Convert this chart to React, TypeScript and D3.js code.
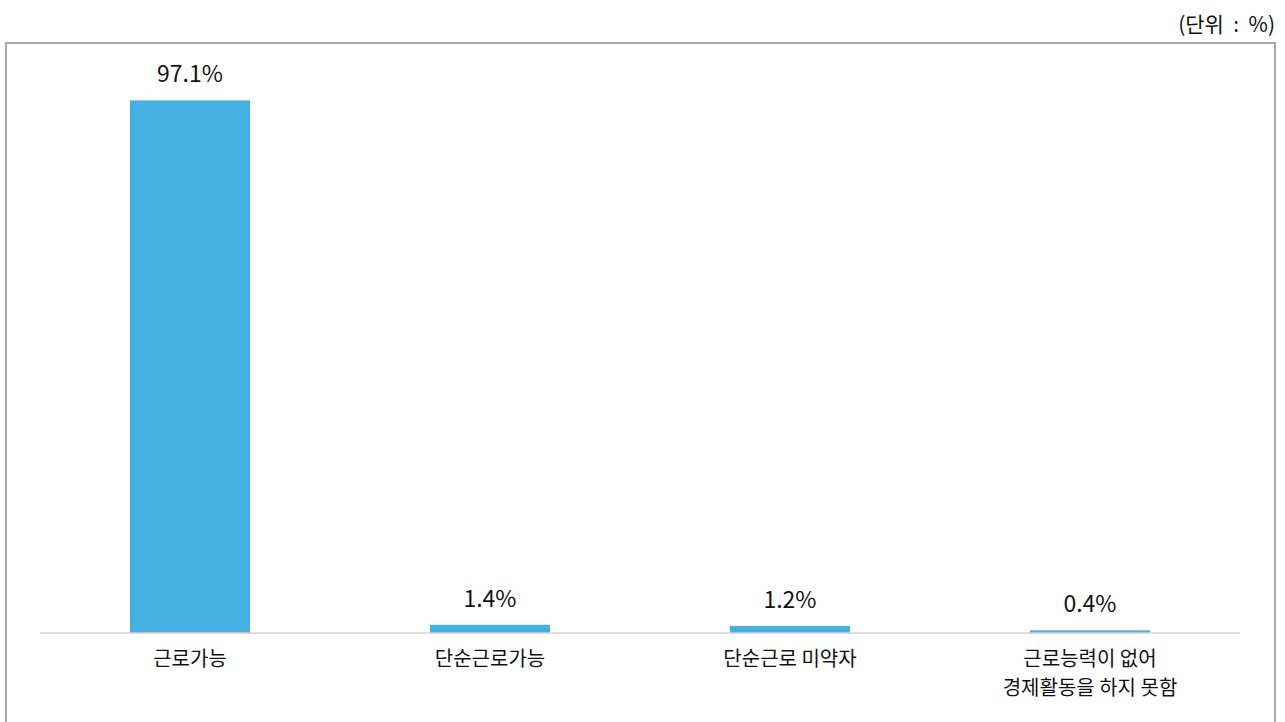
import { useRef, useEffect } from 'react';
import * as d3 from 'd3';

const categories = ['근로가능', '단순근로가능', '단순근로 미약자', '근로능력이 없어\n경제활동을 하지 못함'];
const values = [97.1, 1.4, 1.2, 0.4];
const unitLabel = '(단위  :  %)';

export default function App() {
  const svgRef = useRef<SVGSVGElement>(null);

  useEffect(() => {
    const w = 1285;
    const h = 722;
    const font = '"Noto Sans CJK KR", "Noto Sans", sans-serif';
    const svg = d3.select(svgRef.current).attr('width', w).attr('height', h);
    svg.selectAll('*').remove();

    // outer frame (bottom runs off the page)
    svg
      .append('rect')
      .attr('x', 6)
      .attr('y', 43)
      .attr('width', 1269)
      .attr('height', 700)
      .attr('fill', 'none')
      .attr('stroke', '#a9a9a9')
      .attr('stroke-width', 2);

    svg
      .append('text')
      .attr('x', 1275)
      .attr('y', 32)
      .attr('text-anchor', 'end')
      .attr('font-family', font)
      .attr('font-size', 21)
      .attr('fill', '#111')
      .style('white-space', 'pre')
      .text(unitLabel);

    // scales
    const xScale = d3
      .scaleBand<string>()
      .domain(categories)
      .range([40, 1240])
      .paddingInner(0.6)
      .paddingOuter(0.3);
    const yScale = d3.scaleLinear().domain([0, 100]).range([632.5, 84.5]);

    const data = categories.map((c, i) => ({ c, v: values[i] }));

    svg
      .selectAll('rect.bar')
      .data(data)
      .enter()
      .append('rect')
      .attr('class', 'bar')
      .attr('x', (d) => xScale(d.c)!)
      .attr('y', (d) => yScale(d.v))
      .attr('width', xScale.bandwidth())
      .attr('height', (d) => yScale(0) - yScale(d.v))
      .attr('fill', '#45b0e1');

    // baseline
    svg
      .append('line')
      .attr('x1', 40)
      .attr('x2', 1240)
      .attr('y1', yScale(0) + 0.5)
      .attr('y2', yScale(0) + 0.5)
      .attr('stroke', '#bfbfbf')
      .attr('stroke-width', 1);

    // value labels
    svg
      .selectAll('text.val')
      .data(data)
      .enter()
      .append('text')
      .attr('class', 'val')
      .attr('x', (d) => xScale(d.c)! + xScale.bandwidth() / 2)
      .attr('y', (d) => yScale(d.v) - 18)
      .attr('text-anchor', 'middle')
      .attr('font-family', font)
      .attr('font-size', 23)
      .attr('fill', '#111')
      .text((d) => d.v.toFixed(1) + '%');

    // category labels, one text per line
    const lines = data.flatMap((d) =>
      d.c.split('\n').map((t, i) => ({ t, i, x: xScale(d.c)! + xScale.bandwidth() / 2 }))
    );
    svg
      .selectAll('text.cat')
      .data(lines)
      .enter()
      .append('text')
      .attr('class', 'cat')
      .attr('x', (d) => d.x)
      .attr('y', (d) => 666 + d.i * 29)
      .attr('text-anchor', 'middle')
      .attr('font-family', font)
      .attr('font-size', 20)
      .attr('fill', '#111')
      .text((d) => d.t);
  }, []);

  return <svg ref={svgRef} style={{ position: 'absolute', left: 0, top: 0 }}></svg>;
}
